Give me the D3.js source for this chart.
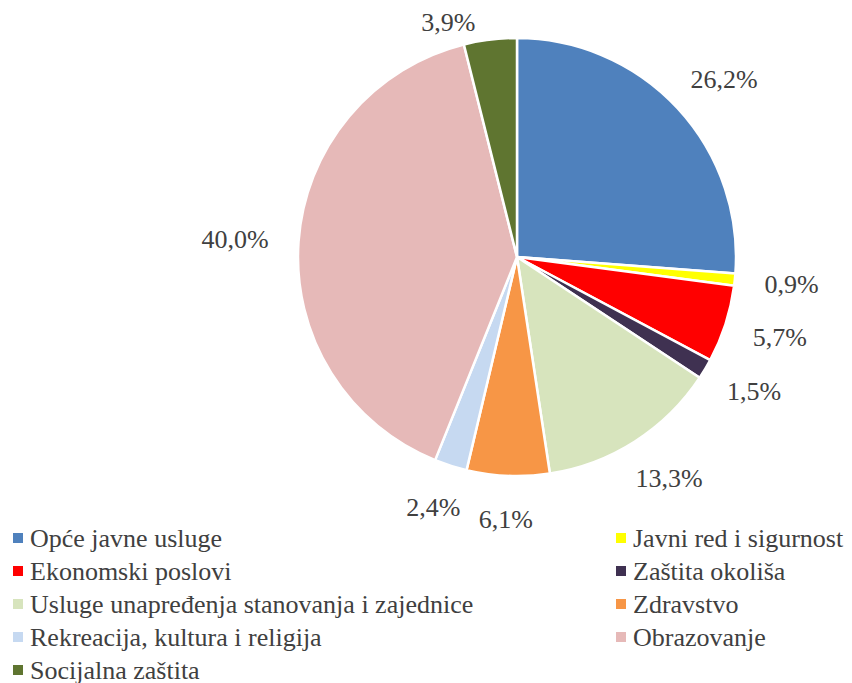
<!DOCTYPE html>
<html>
<head>
<meta charset="utf-8">
<script src="https://cdn.jsdelivr.net/npm/d3@7"></script>
<style>
  body { margin: 0; background: #fff; }
  svg { display: block; }
</style>
</head>
<body>
<svg id="chart" width="852" height="683"></svg>
<script>
// pie: rashodi po funkcijama (%)
const categories = [
    "Opće javne usluge",
    "Javni red i sigurnost",
    "Ekonomski poslovi",
    "Zaštita okoliša",
    "Usluge unapređenja stanovanja i zajednice",
    "Zdravstvo",
    "Rekreacija, kultura i religija",
    "Obrazovanje",
    "Socijalna zaštita"
];
const values = [26.2, 0.9, 5.7, 1.5, 13.3, 6.1, 2.4, 40.0, 3.9];
const colors = ["#4F81BD", "#FFFF00", "#FF0000", "#3F3151", "#D7E4BD", "#F79646", "#C6D9F1", "#E6B9B8", "#5F7530"];

const svg = d3.select("#chart");
const cx = 517, cy = 257, r = 219;
const textCol = "#404040";

const color = d3.scaleOrdinal().domain(categories).range(colors);
const fmt = v => d3.format(".1f")(v).replace(".", ",") + "%";

const data = categories.map((c, i) => ({ name: c, value: values[i] }));
const pie = d3.pie().value(d => d.value).sort(null);
const arc = d3.arc().innerRadius(0).outerRadius(r);
const arcs = pie(data);

svg.append("g")
    .attr("transform", `translate(${cx},${cy})`)
    .selectAll("path")
    .data(arcs)
    .enter()
    .append("path")
    .attr("d", arc)
    .attr("fill", d => color(d.data.name))
    .attr("stroke", "#fff")
    .attr("stroke-width", 2.5)
    .attr("stroke-linejoin", "round");

// data labels, outside end (placed in page coords, no group)
const gap = 30, lh = 26;
const labels = svg.selectAll("text.lbl")
    .data(arcs)
    .enter()
    .append("text")
    .attr("class", "lbl")
    .attr("font-size", 26)
    .attr("font-family", "Liberation Serif")
    .attr("fill", textCol)
    .attr("text-anchor", "middle")
    .text(d => fmt(d.data.value));

labels.each(function (d) {
    const a = (d.startAngle + d.endAngle) / 2;
    const w = this.getComputedTextLength();
    const s = Math.sin(a), c = -Math.cos(a);
    let x = cx + (r + gap) * s + w / 2 * s;
    let y = cy + (r + gap) * c + lh / 2 * c;
    // keep inside the chart area at the top
    if (y < 22) {
        y = 22;
        x = x - 35;
    }
    // baseline from centre
    d3.select(this).attr("x", x).attr("y", y + 9);
});

// legend, two columns
const legX = [13, 616], legY0 = 538, legDy = 33;
const legRow = i => legY0 + Math.floor(i / 2) * legDy;

svg.selectAll("rect.leg")
    .data(categories)
    .enter()
    .append("rect")
    .attr("class", "leg")
    .attr("x", (d, i) => legX[i % 2])
    .attr("y", (d, i) => legRow(i) - 5)
    .attr("width", 10)
    .attr("height", 10)
    .attr("fill", d => color(d));

svg.selectAll("text.legtxt")
    .data(categories)
    .enter()
    .append("text")
    .attr("class", "legtxt")
    .attr("font-size", 26)
    .attr("font-family", "Liberation Serif")
    .attr("fill", textCol)
    .attr("x", (d, i) => legX[i % 2] + 17)
    .attr("y", (d, i) => legRow(i) + 9)
    .text(d => d);
</script>
</body>
</html>
